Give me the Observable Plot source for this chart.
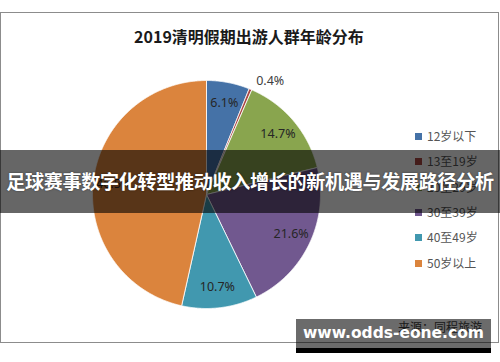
<!DOCTYPE html>
<html><head><meta charset="utf-8">
<script src="https://cdn.jsdelivr.net/npm/d3@7"></script>
<script src="https://cdn.jsdelivr.net/npm/@observablehq/plot@0.6"></script>
<style>
body{margin:0;background:#fff;font-family:"Noto Sans CJK SC","Noto Sans",sans-serif;}
#wrap{position:relative;width:500px;height:362px;overflow:hidden;background:#fff;}
#frame{position:absolute;left:0;top:12px;width:499px;height:331px;border:1px solid #8c8c8c;box-sizing:border-box;}
#title{position:absolute;left:0;width:498px;top:24px;text-align:center;font-size:16px;font-weight:bold;color:#1a1a1a;line-height:24px;}
#pie{position:absolute;left:56px;top:44px;}
#legend{position:absolute;left:415px;top:0;}
.li{position:absolute;left:0;width:90px;height:16px;line-height:16px;font-size:12px;color:#555;white-space:nowrap;}
.li span.sw{display:inline-block;width:7px;height:7px;margin-right:5px;vertical-align:1px;}
#source{position:absolute;left:398px;top:318px;font-size:12px;color:#404040;}
#banner{position:absolute;left:0;top:150px;width:500px;height:63px;background:rgba(0,0,0,0.6);color:#fff;font-weight:bold;font-size:19.1px;line-height:63px;text-align:center;white-space:nowrap;letter-spacing:-0.35px;text-shadow:0 0 2px rgba(0,0,0,0.5);}
#wm{position:absolute;left:296px;top:319px;width:195px;height:29px;background:rgba(0,0,0,0.58);box-shadow:0 5px 0 #000;color:#fff;font-family:"DejaVu Sans",sans-serif;font-weight:bold;font-size:15.5px;line-height:29px;text-align:center;white-space:nowrap;}
</style></head>
<body>
<div id="wrap">
  <div id="frame"></div>
  <div id="title"></div>
  <div id="pie"></div>
  <div id="legend"></div>
  <div id="source"></div>
  <div id="banner"></div>
  <div id="wm"></div>
</div>
<script>
const titleText = "2019清明假期出游人群年龄分布";
const categories = ["12岁以下","13至19岁","20至29岁","30至39岁","40至49岁","50岁以上"];
const values = [6.1, 0.4, 14.7, 21.6, 10.7, 46.5];
const colors = ["#4572A7","#AA4643","#89A54E","#71588F","#4198AF","#DB843D"];
const sourceText = "来源：同程旅游";
const bannerText = "足球赛事数字化转型推动收入增长的新机遇与发展路径分析";
const watermarkText = "www.odds-eone.com";

document.getElementById("title").textContent = titleText;
document.getElementById("source").textContent = sourceText;
document.getElementById("banner").textContent = bannerText;
document.getElementById("wm").textContent = watermarkText;

// legend
const leg = document.getElementById("legend");
categories.forEach((c, i) => {
  const d = document.createElement("div");
  d.className = "li";
  d.style.top = (128 + i * 25.3) + "px";
  d.innerHTML = `<span class="sw" style="background:${colors[i]}"></span>${c}`;
  leg.appendChild(d);
});

// pie geometry from data
const data = categories.map((c, i) => ({cat: c, value: values[i]}));
const arcs = d3.pie().sort(null).value(d => d.value).startAngle(0).endAngle(2 * Math.PI)(data);
const pts = [];
const labelsIn = [], labelsOut = [];
arcs.forEach(a => {
  const cat = a.data.cat;
  pts.push({cat, x: 0, y: 0});
  const n = Math.max(2, Math.ceil((a.endAngle - a.startAngle) / 0.005));
  for (let k = 0; k <= n; k++) {
    const t = a.startAngle + (a.endAngle - a.startAngle) * k / n;
    pts.push({cat, x: Math.sin(t), y: Math.cos(t)});
  }
  pts.push({cat, x: 0, y: 0});
  const mid = (a.startAngle + a.endAngle) / 2;
  const lab = a.data.value.toFixed(1) + "%";
  if (a.data.value < 1) labelsOut.push({x: 1.13 * Math.sin(mid), y: 1.13 * Math.cos(mid), lab});
  else labelsIn.push({x: 0.82 * Math.sin(mid), y: 0.82 * Math.cos(mid), lab});
});

const R = 150 / 114;
const chart = Plot.plot({
  width: 300, height: 300, margin: 0,
  x: {domain: [-R, R], axis: null},
  y: {domain: [-R, R], axis: null},
  color: {domain: categories, range: colors},
  marks: [
    Plot.line(pts, {x: "x", y: "y", z: "cat", fill: "cat", stroke: "#fff", strokeWidth: 0.8, curve: "linear"}),
    Plot.text(labelsIn, {x: "x", y: "y", text: "lab", fontSize: 12.5, fill: "#262626", fontFamily: "Noto Sans, sans-serif"}),
    Plot.text(labelsOut, {x: "x", y: "y", text: "lab", fontSize: 12.5, fill: "#404040", textAnchor: "start", dy: 5, fontFamily: "Noto Sans, sans-serif"})
  ]
});
document.getElementById("pie").appendChild(chart);
</script>
</body></html>
